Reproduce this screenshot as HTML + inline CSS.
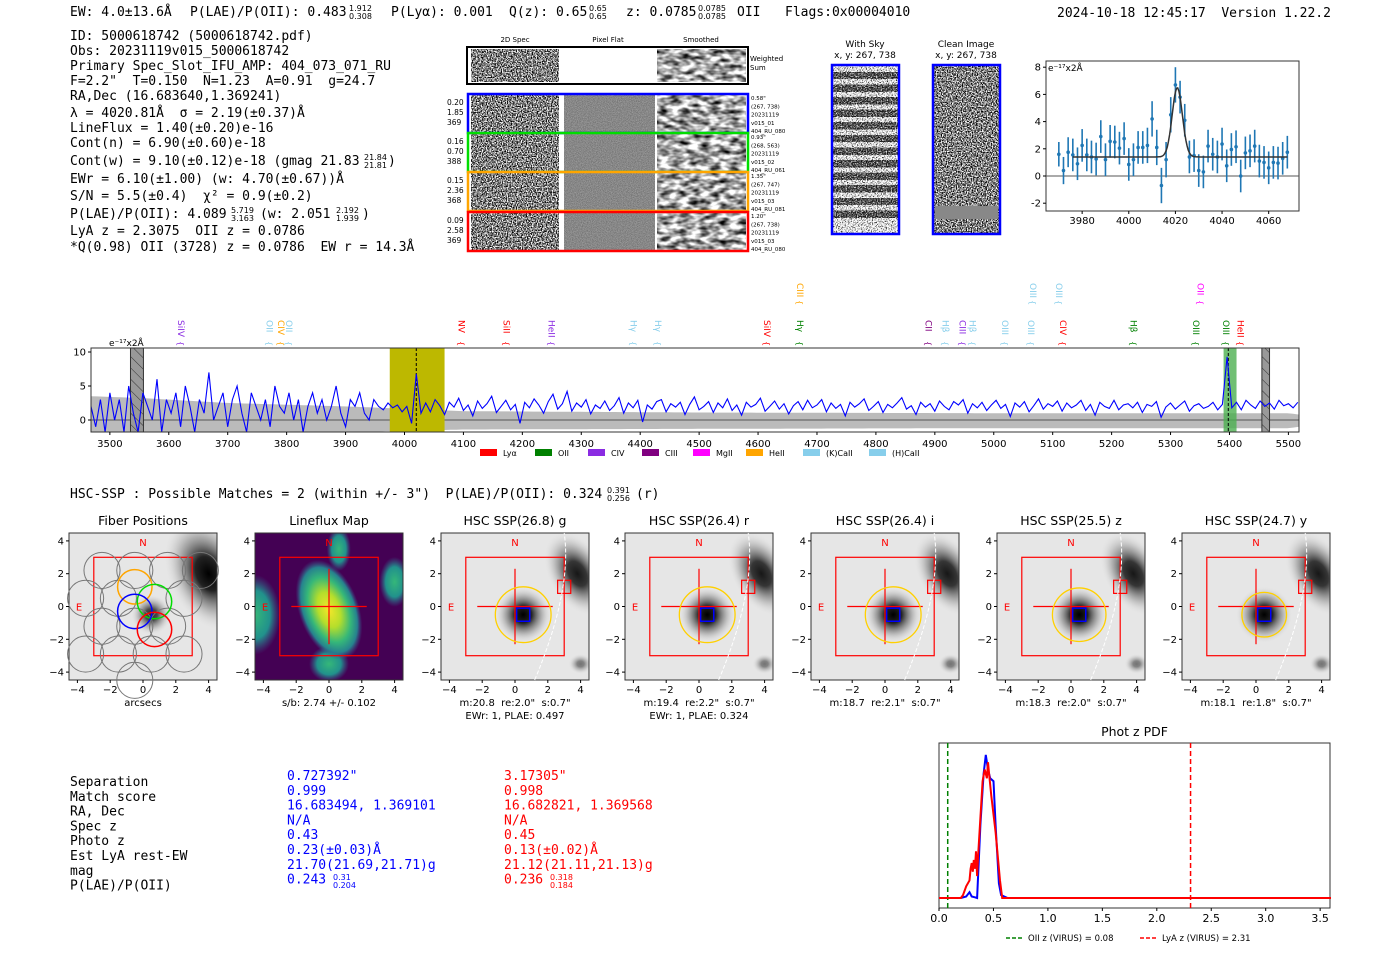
<!DOCTYPE html>
<html><head><meta charset="utf-8"><style>
html,body{margin:0;padding:0;background:#fff;}
svg{display:block;}
text{font-family:"DejaVu Sans","Liberation Sans",sans-serif;white-space:pre;}
.mono{font-family:"DejaVu Sans Mono","Liberation Mono",monospace;font-size:13px;white-space:pre;}
.tk{font-size:10px;fill:#000;}
</style></head><body>
<svg id="root" width="1400" height="953" viewBox="0 0 1400 953" xmlns="http://www.w3.org/2000/svg" xml:space="preserve">
<defs>
<filter id="noise" x="0" y="0" width="100%" height="100%" color-interpolation-filters="sRGB"><feTurbulence type="fractalNoise" baseFrequency="0.8" numOctaves="2" seed="3"/><feColorMatrix type="matrix" values="3.2 0 0 0 -1.1  3.2 0 0 0 -1.1  3.2 0 0 0 -1.1  0 0 0 0 1"/></filter>
<filter id="noiseLight" x="0" y="0" width="100%" height="100%" color-interpolation-filters="sRGB"><feTurbulence type="fractalNoise" baseFrequency="0.8" numOctaves="2" seed="9"/><feColorMatrix type="matrix" values="3 0 0 0 -0.6  3 0 0 0 -0.6  3 0 0 0 -0.6  0 0 0 0 1"/></filter>
<filter id="noiseDark" x="0" y="0" width="100%" height="100%" color-interpolation-filters="sRGB"><feTurbulence type="fractalNoise" baseFrequency="0.8" numOctaves="2" seed="11"/><feColorMatrix type="matrix" values="3 0 0 0 -1.3  3 0 0 0 -1.3  3 0 0 0 -1.3  0 0 0 0 1"/></filter>
<filter id="smooth" x="0" y="0" width="100%" height="100%" color-interpolation-filters="sRGB"><feTurbulence type="fractalNoise" baseFrequency="0.1 0.2" numOctaves="2" seed="7"/><feColorMatrix type="matrix" values="2 0 0 0 -0.35  2 0 0 0 -0.35  2 0 0 0 -0.35  0 0 0 0 1"/></filter>
<filter id="flat" x="0" y="0" width="100%" height="100%" color-interpolation-filters="sRGB"><feTurbulence type="fractalNoise" baseFrequency="1.2" numOctaves="1" seed="5"/><feColorMatrix type="matrix" values="0.4 0 0 0 0.33  0.4 0 0 0 0.33  0.4 0 0 0 0.33  0 0 0 0 1"/></filter>
<pattern id="hatch" width="8" height="8" patternUnits="userSpaceOnUse" patternTransform="rotate(-45)"><rect width="8" height="8" fill="#999"/><line x1="0" y1="0" x2="0" y2="8" stroke="#333" stroke-width="1"/></pattern>
<radialGradient id="blobDark" cx="50%" cy="50%" r="50%"><stop offset="0" stop-color="#000"/><stop offset="0.3" stop-color="#222"/><stop offset="0.65" stop-color="#888" stop-opacity="0.6"/><stop offset="1" stop-color="#ddd" stop-opacity="0"/></radialGradient>
<radialGradient id="blobY" cx="50%" cy="50%" r="50%"><stop offset="0" stop-color="#f5e62a"/><stop offset="0.35" stop-color="#b5de2b"/><stop offset="0.65" stop-color="#35b779"/><stop offset="0.85" stop-color="#26828e"/><stop offset="1" stop-color="#3b528b" stop-opacity="0"/></radialGradient>
<radialGradient id="blobT" cx="50%" cy="50%" r="50%"><stop offset="0" stop-color="#35b779"/><stop offset="0.6" stop-color="#21918c"/><stop offset="1" stop-color="#31688e" stop-opacity="0"/></radialGradient>
</defs>

<g>
<text x="70" y="16" class="mono">EW: 4.0±13.6Å</text>
<text x="190" y="16" class="mono">P(LAE)/P(OII): 0.483</text>
<text x="349" y="11" font-size="8">1.912</text><text x="349" y="19" font-size="8">0.308</text>
<text x="391" y="16" class="mono">P(Lyα): 0.001</text>
<text x="509" y="16" class="mono">Q(z): 0.65</text>
<text x="589" y="11" font-size="8">0.65</text><text x="589" y="19" font-size="8">0.65</text>
<text x="626" y="16" class="mono">z: 0.0785</text>
<text x="698" y="11" font-size="8">0.0785</text><text x="698" y="19" font-size="8">0.0785</text>
<text x="737" y="16" class="mono">OII</text>
<text x="785" y="16" class="mono">Flags:0x00004010</text>
<text x="1057" y="17" class="mono">2024-10-18 12:45:17  Version 1.22.2</text>
</g>

<g>
<text x="70" y="40" class="mono">ID: 5000618742 (5000618742.pdf)</text>
<text x="70" y="55" class="mono">Obs: 20231119v015_5000618742</text>
<text x="70" y="70" class="mono">Primary Spec_Slot_IFU_AMP: 404_073_071_RU</text>
<text x="70" y="85" class="mono">F=2.2"  T=0.150  N=1.23  A=0.91  g=24.7</text>
<text x="70" y="100" class="mono">RA,Dec (16.683640,1.369241)</text>
<text x="70" y="117" class="mono">λ = 4020.81Å  σ = 2.19(±0.37)Å</text>
<text x="70" y="132" class="mono">LineFlux = 1.40(±0.20)e-16</text>
<text x="70" y="147" class="mono">Cont(n) = 6.90(±0.60)e-18</text>
<text x="70" y="165" class="mono">Cont(w) = 9.10(±0.12)e-18 (gmag 21.83</text>
<text x="364" y="160" font-size="8">21.84</text><text x="364" y="168" font-size="8">21.81</text><text x="388" y="165" class="mono">)</text>
<text x="70" y="183" class="mono">EWr = 6.10(±1.00) (w: 4.70(±0.67))Å</text>
<text x="70" y="200" class="mono">S/N = 5.5(±0.4)  χ² = 0.9(±0.2)</text>
<text x="70" y="218" class="mono">P(LAE)/P(OII): 4.089</text>
<text x="231" y="213" font-size="8">5.719</text><text x="231" y="221" font-size="8">3.163</text>
<text x="260" y="218" class="mono">(w: 2.051</text>
<text x="336" y="213" font-size="8">2.192</text><text x="336" y="221" font-size="8">1.939</text><text x="362" y="218" class="mono">)</text>
<text x="70" y="235" class="mono">LyA z = 2.3075  OII z = 0.0786</text>
<text x="70" y="251" class="mono">*Q(0.98) OII (3728) z = 0.0786  EW r = 14.3Å</text>
</g>

<g id="cutouts">
<text x="515" y="42" font-size="7" text-anchor="middle">2D Spec</text>
<text x="608" y="42" font-size="7" text-anchor="middle">Pixel Flat</text>
<text x="701" y="42" font-size="7" text-anchor="middle">Smoothed</text>
<rect x="467" y="47" width="281" height="37" fill="#fff" stroke="#000" stroke-width="2"/>
<rect x="471" y="49" width="88" height="33" filter="url(#noise)"/>
<rect x="657" y="49" width="89" height="33" filter="url(#smooth)"/>
<text x="750" y="61" font-size="7">Weighted</text><text x="750" y="70" font-size="7">Sum</text>
</g>

<g>
<text x="865" y="47" font-size="9" text-anchor="middle">With Sky</text>
<text x="865" y="58" font-size="9" text-anchor="middle">x, y: 267, 738</text>
<text x="966" y="47" font-size="9" text-anchor="middle">Clean Image</text>
<text x="966" y="58" font-size="9" text-anchor="middle">x, y: 267, 738</text>
<rect x="832" y="65" width="67" height="169" filter="url(#noiseLight)"/>
<g id="skystripes"></g>
<rect x="832" y="65" width="67" height="169" fill="none" stroke="#0000ff" stroke-width="2.5"/>
<rect x="933" y="65" width="67" height="169" filter="url(#noise)"/>
<rect x="935" y="206" width="63" height="13" fill="#888"/>
<rect x="933" y="65" width="67" height="169" fill="none" stroke="#0000ff" stroke-width="2.5"/>
</g>

<g id="fitplot"></g>
<g id="specplot"></g>

<text x="70" y="498" class="mono">HSC-SSP : Possible Matches = 2 (within +/- 3")  P(LAE)/P(OII): 0.324</text>
<text x="607" y="493" font-size="8">0.391</text><text x="607" y="501" font-size="8">0.256</text><text x="636" y="498" class="mono">(r)</text>

<g id="panels"></g>
<g><g id="tbl"></g></g>
<g id="pdfplot"></g>
</svg>

<script>
// ===== data: full spectrum =====
const specStart = 3468, specStep = 8;
const specFlux = [2,-1,3,-2,4,0,3,-2,5,1,-2,4,2,0,6,-2,3,1,4,-1,5,2,-3,3,1,7,0,2,4,-1,3,5,1,-2,4,2,0,3,-1,5,2,1,4,0,3,-2,2,4,1,3,0,2,5,1,-1,3,2,4,1,0,3,
2,1.5,2.5,1.8,2.2,1.2,2.0,-0.5,6.8,1.0,
2.5,1.2,3.0,2.1,0.8,2.6,1.9,3.2,1.4,2.2,0.6,2.8,1.7,2.4,3.5,1.1,2.0,2.9,1.5,2.3,
-0.5,2.6,1.8,3.1,2.2,1.0,2.7,3.8,1.6,2.4,4.2,1.3,2.5,1.9,3.0,0.9,2.2,1.7,2.8,1.4,
2.1,3.3,1.0,2.5,1.8,2.9,-0.3,2.2,1.6,2.7,3.0,1.2,2.4,1.9,2.6,0.8,2.3,3.4,1.5,2.0,
2.7,1.1,2.5,1.8,3.1,1.4,2.2,0.7,2.6,1.9,2.3,3.2,1.3,2.0,2.8,1.6,2.4,0.9,2.1,2.7,
1.5,2.9,1.8,2.2,3.0,1.2,2.5,1.7,2.3,0.6,2.6,1.9,2.4,3.1,1.4,2.0,2.7,1.1,2.3,1.8,
2.5,3.3,1.6,2.1,0.8,2.6,1.9,2.4,1.3,2.8,2.0,1.5,2.7,2.2,3.0,1.0,2.4,1.8,2.6,1.4,
2.2,2.9,1.7,2.3,0.5,2.5,1.9,2.7,1.2,2.1,3.1,1.6,2.4,2.0,2.8,1.3,2.5,1.8,2.2,2.9,
1.4,2.3,0.7,2.6,2.0,1.7,2.9,1.5,2.2,2.4,1.8,2.6,1.1,2.3,2.0,2.7,0.4,1.9,2.5,1.6,
2.2,2.8,1.3,2.1,2.4,1.7,2.0,2.6,1.5,2.3,
9.3,1.8,2.6,1.5,2.9,2.2,1.7,2.8,2.0,2.5,1.6,2.9,2.1,2.4,1.8,2.6];
const bandWave = [3468,3560,3700,3900,4100,4500,5000,5500,5518];
const bandHi = [3.5,3.2,2.5,2.0,1.3,1.1,1.0,1.0,0.8];
const bandLo = [-2.5,-2.3,-2.2,-1.8,-1.4,-1.3,-1.2,-1.2,-1.0];
const specTicks = [3500,3600,3700,3800,3900,4000,4100,4200,4300,4400,4500,4600,4700,4800,4900,5000,5100,5200,5300,5400,5500];
const specYTicks = [0,5,10];
const lineLabels = [
 [3620,"SiIV","#8a2be2",0],[3770,"OII","#87ceeb",0],[3790,"CIV","#ffa500",0],[3803,"OII","#87ceeb",0],
 [4096,"NV","#ff0000",0],[4172,"SiII","#ff0000",0],[4249,"HeII","#8a2be2",0],[4388,"Hγ","#87ceeb",0],[4429,"Hγ","#87ceeb",0],
 [4614,"SiIV","#ff0000",0],[4670,"Hγ","#008000",0],[4670,"CIII","#ffa500",1],[4888,"CII","#800080",0],[4917,"Hβ","#87ceeb",0],
 [4946,"CIII","#8a2be2",0],[4963,"Hβ","#87ceeb",0],[5018,"OIII","#87ceeb",0],[5062,"OIII","#87ceeb",0],[5066,"OIII","#87ceeb",1],[5110,"OIII","#87ceeb",1],
 [5117,"CIV","#ff0000",0],[5236,"Hβ","#008000",0],[5342,"OIII","#008000",0],[5393,"OIII","#008000",0],[5418,"HeII","#ff0000",0],[5350,"OII","#ff00ff",1]];
const legNames = ["Lyα","OII","CIV","CIII","MgII","HeII","(K)CaII","(H)CaII"];
const legColors = ["#ff0000","#008000","#8a2be2","#800080","#ff00ff","#ffa500","#87ceeb","#87ceeb"];

// ===== data: line fit =====
const fitWave = [3970,3972,3974,3976,3978,3980,3982,3984,3986,3988,3990,3992,3994,3996,3998,4000,4002,4004,4006,4008,4010,4012,4014,4016,4018,4020,4022,4024,4026,4028,4030,4032,4034,4036,4038,4040,4042,4044,4046,4048,4050,4052,4054,4056,4058,4060,4062,4064,4066,4068];
const fitFlux = [1.6,0.4,1.75,1.55,0.9,2.25,1.55,1.4,1.25,2.9,1.2,2.55,2.5,2.05,2.75,0.85,1.2,2.1,2.1,2.25,4.2,2.1,-0.7,1.2,4.5,6.7,5.8,4.1,1.4,1.5,0.4,0.3,2.2,1.6,1.4,2.35,0.75,1.95,2.15,0.0,1.7,1.85,2.2,1.1,1.0,0.6,1.0,0.95,1.3,1.75];
const fitErr = [0.9,1.0,1.1,1.2,1.2,1.2,1.2,1.2,1.2,1.2,1.2,1.2,1.2,1.2,1.2,1.2,1.2,1.2,1.2,1.3,1.3,1.3,1.3,1.3,1.3,1.3,1.2,1.2,1.2,1.2,1.2,1.2,1.2,1.2,1.2,1.2,1.2,1.2,1.2,1.2,1.2,1.2,1.2,1.2,1.2,1.2,1.2,1.2,1.2,1.2];
const fitModel = [1.4, 5.1, 4020.8, 2.19];
const fitXTicks = [3980,4000,4020,4040,4060];
const fitYTicks = [-2,0,2,4,6,8];

// ===== data: photz pdf =====
const zBlue = [0,0.2,0.25,0.28,0.3,0.33,0.35,0.38,0.41,0.43,0.45,0.47,0.5,0.52,0.55,0.57,0.6,0.63,3.6];
const pBlue = [0,0,0.01,0.04,0.01,0.005,0,0.5,0.85,0.98,0.88,0.82,0.8,0.5,0.1,0.02,0.01,0,0];
const zRed = [0,0.2,0.22,0.25,0.28,0.29,0.3,0.31,0.32,0.33,0.34,0.35,0.36,0.38,0.4,0.42,0.44,0.45,0.46,0.48,0.52,0.56,0.58,0.62,3.6];
const pRed = [0,0,0.02,0.08,0.12,0.2,0.24,0.18,0.26,0.2,0.32,0.15,0.3,0.55,0.8,0.88,0.82,0.93,0.85,0.7,0.45,0.12,0,0,0];
const pdfXTicks = [0.0,0.5,1.0,1.5,2.0,2.5,3.0,3.5];
const zOII = 0.08, zLyA = 2.31;

// ===== data: panels & table =====
const panelTitles = ["Fiber Positions","Lineflux Map","HSC SSP(26.8) g","HSC SSP(26.4) r","HSC SSP(26.4) i","HSC SSP(25.5) z","HSC SSP(24.7) y"];
const panelSub1 = ["arcsecs","s/b: 2.74 +/- 0.102","m:20.8  re:2.0\"  s:0.7\"","m:19.4  re:2.2\"  s:0.7\"","m:18.7  re:2.1\"  s:0.7\"","m:18.3  re:2.0\"  s:0.7\"","m:18.1  re:1.8\"  s:0.7\""];
const panelSub2 = ["","","EWr: 1, PLAE: 0.497","EWr: 1, PLAE: 0.324","","",""];
const circR = [0,0,2.5,2.5,2.5,2.4,2.0];
const tblLabels = ["Separation","Match score","RA, Dec","Spec z","Photo z","Est LyA rest-EW","mag","P(LAE)/P(OII)"];
const tblBlue = ["0.727392\"","0.999","16.683494, 1.369101","N/A","0.43","0.23(±0.03)Å","21.70(21.69,21.71)g","0.243"];
const tblRed = ["3.17305\"","0.998","16.682821, 1.369568","N/A","0.45","0.13(±0.02)Å","21.12(21.11,21.13)g","0.236"];

const NS="http://www.w3.org/2000/svg";
function mk(parent,tag,attrs,txt){const e=document.createElementNS(NS,tag);for(const k in attrs)e.setAttribute(k,attrs[k]);if(txt!==undefined)e.textContent=txt;parent.appendChild(e);return e;}

(function(){
 const g=document.getElementById('cutouts');
 const rows=[[95,"#0000ff",["0.20","1.85","369"],["0.58\"","(267, 738)","20231119","v015_01","404_RU_080"]],
 [134,"#00dd00",["0.16","0.70","388"],["0.93\"","(268, 563)","20231119","v015_02","404_RU_061"]],
 [173,"#ffa500",["0.15","2.36","368"],["1.35\"","(267, 747)","20231119","v015_03","404_RU_081"]],
 [213,"#ff0000",["0.09","2.58","369"],["1.20\"","(267, 738)","20231119","v015_03","404_RU_080"]]];
 rows.forEach((r,i)=>{
  const y=r[0];
  mk(g,'rect',{x:471,y:y,width:88,height:38,filter:'url(#noise)'});
  mk(g,'rect',{x:564,y:y,width:91,height:38,filter:'url(#flat)'});
  mk(g,'rect',{x:657,y:y,width:89,height:38,filter:'url(#smooth)'});
  const fr=mk(g,'rect',{x:468,y:y-1,width:280,height:39,fill:'none',stroke:r[1],'stroke-width':2.5});
  
  
  r[2].forEach((t,j)=>mk(g,'text',{x:447,y:y+10+j*10,'font-size':7.5},t));
  r[3].forEach((t,j)=>mk(g,'text',{x:751,y:y+5+j*8.3,'font-size':5.5},t));
 });
 const s=document.getElementById('skystripes');
 for(let k=0;k<12;k++){const yy=72+k*12.6;mk(s,'rect',{x:833,y:yy,width:65,height:7,filter:'url(#noiseDark)',opacity:0.85});}
})();

(function(){
 const g=document.getElementById('fitplot');
 const L=1046,R=1299,T=61,B=211;
 const xs=w=>L+(w-3964.5)/(4073-3964.5)*(R-L);
 const ys=v=>176-v*13.6;
 mk(g,'rect',{x:L,y:T,width:R-L,height:B-T,fill:'#fff',stroke:'#333'});
 mk(g,'line',{x1:L,x2:R,y1:ys(0),y2:ys(0),stroke:'#555'});
 fitXTicks.forEach(t=>{mk(g,'line',{x1:xs(t),x2:xs(t),y1:B,y2:B+3,stroke:'#000'});mk(g,'text',{x:xs(t),y:B+13,class:'tk','text-anchor':'middle'},t);});
 fitYTicks.forEach(t=>{mk(g,'line',{x1:L-3,x2:L,y1:ys(t),y2:ys(t),stroke:'#000'});mk(g,'text',{x:L-5,y:ys(t)+3.5,class:'tk','text-anchor':'end'},t);});
 mk(g,'text',{x:L+2,y:T+10,'font-size':9},'e⁻¹⁷x2Å');
 fitWave.forEach((w,i)=>{
  const eb=mk(g,'line',{x1:xs(w),x2:xs(w),y1:ys(fitFlux[i]-fitErr[i]),y2:ys(fitFlux[i]+fitErr[i]),stroke:'#1f77b4','stroke-width':1.6});
  
  
  const p=mk(g,'circle',{cx:xs(w),cy:ys(fitFlux[i]),r:1.8,fill:'#1f77b4'});
  
  
 });
 let d='';
 for(let w=3976;w<=4068;w+=0.5){const v=fitModel[0]+fitModel[1]*Math.exp(-0.5*Math.pow((w-fitModel[2])/fitModel[3],2));d+=(d?'L':'M')+xs(w).toFixed(1)+','+ys(v).toFixed(1);}
 const m=mk(g,'path',{d:d,fill:'none',stroke:'#333','stroke-width':1.5});
 
 
})();

(function(){
 const g=document.getElementById('specplot');
 const L=91,R=1299,T=348,B=432;
 const wMin=3468,wMax=5518;
 const xs=w=>L+(w-wMin)/(wMax-wMin)*(R-L);
 const ys=v=>420-v*6.8;
 mk(g,'rect',{x:L,y:T,width:R-L,height:B-T,fill:'#fff'});
 let top='',bot='';
 for(let w=wMin;w<=wMax;w+=10){
  let k=0;while(k<bandWave.length-2&&w>bandWave[k+1])k++;
  const f=(w-bandWave[k])/(bandWave[k+1]-bandWave[k]);
  const hi=bandHi[k]+f*(bandHi[k+1]-bandHi[k]),lo=bandLo[k]+f*(bandLo[k+1]-bandLo[k]);
  top+=(top?'L':'M')+xs(w).toFixed(1)+','+ys(hi).toFixed(1);
  bot='L'+xs(w).toFixed(1)+','+Math.min(B,ys(lo)).toFixed(1)+bot;
 }
 const band=mk(g,'path',{d:top+bot+'Z',fill:'#bbb'});
 
 
 mk(g,'line',{x1:L,x2:R,y1:ys(0),y2:ys(0),stroke:'#555'});
 const hy=mk(g,'rect',{x:xs(3975),y:T,width:xs(4068)-xs(3975),height:B-T,fill:'#bdb800'});
 
 
 const hg=mk(g,'rect',{x:xs(5390),y:T,width:xs(5412)-xs(5390),height:B-T,fill:'#4caf50',opacity:0.8});
 
 
 [[3535,3557],[5455,5468]].forEach(r=>{mk(g,'rect',{x:xs(r[0]),y:T,width:xs(r[1])-xs(r[0]),height:B-T,fill:'url(#hatch)',stroke:'#333'});});
 [4020,5398].forEach(w=>mk(g,'line',{x1:xs(w),x2:xs(w),y1:T,y2:B,stroke:'#000','stroke-dasharray':'3,2'}));
 let d='';
 specFlux.forEach((v,i)=>{const w=specStart+i*specStep;d+=(i?'L':'M')+xs(w).toFixed(1)+','+Math.max(T,Math.min(B,ys(v))).toFixed(1);});
 const sp=mk(g,'path',{d:d,fill:'none',stroke:'#0000ff','stroke-width':1.1});
 
 
 mk(g,'rect',{x:L,y:T,width:R-L,height:B-T,fill:'none',stroke:'#333'});
 specTicks.forEach(t=>{mk(g,'line',{x1:xs(t),x2:xs(t),y1:B,y2:B+3,stroke:'#000'});mk(g,'text',{x:xs(t),y:B+15,class:'tk','text-anchor':'middle'},t);});
 specYTicks.forEach(t=>{mk(g,'line',{x1:L-3,x2:L,y1:ys(t),y2:ys(t),stroke:'#000'});mk(g,'text',{x:L-5,y:ys(t)+3.5,class:'tk','text-anchor':'end'},t);});
 mk(g,'text',{x:109,y:346,'font-size':9},'e⁻¹⁷x2Å');
 lineLabels.forEach(l=>{
  const x=xs(l[0]);const y0=l[3]?283:320;
  const t=mk(g,'text',{x:x,y:y0,'font-size':9,fill:l[2],transform:'rotate(90 '+x+' '+y0+')','dominant-baseline':'middle'},l[1]);
  
  
  mk(g,'text',{x:x,y:(l[3]?300:341),'font-size':8,fill:l[2],transform:'rotate(90 '+x+' '+(l[3]?300:341)+')','dominant-baseline':'middle'},'{');
 });
 const lx=[480,535,588,642,693,746,803,869];
 legNames.forEach((n,i)=>{
  const r=mk(g,'rect',{x:lx[i],y:449,width:17,height:7,fill:legColors[i]});
  
  
  mk(g,'text',{x:lx[i]+23,y:456,'font-size':8},n);
 });
})();

(function(){
 const g=document.getElementById('panels');
 const lefts=[69,255,441,625,811,997,1182];
 const W=148,T=533,H=147;
 lefts.forEach((x0,i)=>{
  const cx=x0+W/2,cy=T+H/2,s=16.4;
  const X=u=>cx+u*s,Y=v=>cy-v*s;
  const p=mk(g,'g',{});
  
  
  const cp='cp'+i;
  const defs=mk(p,'clipPath',{id:cp});mk(defs,'rect',{x:x0,y:T,width:W,height:H});
  const im=mk(p,'g',{'clip-path':'url(#'+cp+')'});
  if(i===1){
   mk(im,'rect',{x:x0,y:T,width:W,height:H,fill:'#440154'});
   mk(im,'ellipse',{cx:X(-4.5),cy:Y(-0.5),rx:25,ry:40,fill:'url(#blobT)'});
   mk(im,'ellipse',{cx:X(0.6),cy:Y(3.5),rx:12,ry:22,fill:'url(#blobT)'});
   mk(im,'ellipse',{cx:X(4),cy:Y(1.5),rx:15,ry:25,fill:'url(#blobT)'});
   mk(im,'ellipse',{cx:X(0),cy:Y(-3.5),rx:20,ry:18,fill:'url(#blobT)'});
   mk(im,'ellipse',{cx:X(0),cy:Y(-0.2),rx:30,ry:52,fill:'url(#blobY)',transform:'rotate(-20 '+X(0)+' '+Y(-0.2)+')'});
  } else {
   mk(im,'rect',{x:x0,y:T,width:W,height:H,fill:'#e6e6e6'});
   if(i===0){
    mk(im,'ellipse',{cx:X(4),cy:Y(2),rx:40,ry:60,fill:'url(#blobDark)',transform:'rotate(-25 '+X(4)+' '+Y(2)+')'});
    mk(im,'ellipse',{cx:X(0.5),cy:Y(-0.5),rx:20,ry:20,fill:'url(#blobDark)',opacity:0.8});
   } else {
    mk(im,'ellipse',{cx:X(0.5),cy:Y(-0.5),rx:28,ry:28,fill:'url(#blobDark)'});
    mk(im,'ellipse',{cx:X(3.8),cy:Y(2),rx:28,ry:45,fill:'url(#blobDark)',opacity:0.9,transform:'rotate(-30 '+X(3.8)+' '+Y(2)+')'});
    mk(im,'ellipse',{cx:X(4),cy:Y(-3.5),rx:12,ry:10,fill:'url(#blobDark)',opacity:0.5});
   }
  }
  mk(p,'rect',{x:x0,y:T,width:W,height:H,fill:'none',stroke:'#333'});
  mk(p,'rect',{x:X(-3),y:Y(3),width:6*s,height:6*s,fill:'none',stroke:'#ff0000','stroke-width':1.2});
  if(i===0){
   const fib=[[-2.5,2.2],[-1.5,0.5],[-3.5,0.5],[-2.5,-1.2],[-0.5,2.2],[1.5,2.2],[-3.5,-2.9],[-1.5,-2.9],[0.5,-2.9],[2.5,-2.9],[-0.5,-4.5],[2.5,0.5],[3.5,2.2],[-0.5,-1.2],[1.5,-1.2]];
   fib.forEach(f=>mk(p,'ellipse',{cx:X(f[0]),cy:Y(f[1]),rx:1.1*s,ry:1.1*s,fill:'none',stroke:'#777'}));
   [[-0.5,1.2,'#ffa500'],[0.7,0.3,'#00dd00'],[-0.5,-0.3,'#0000ff'],[0.7,-1.4,'#ff0000']].forEach(f=>mk(p,'ellipse',{cx:X(f[0]),cy:Y(f[1]),rx:1.05*s,ry:1.05*s,fill:'none',stroke:f[2],'stroke-width':1.5}));
  } else {
   mk(p,'line',{x1:X(-2.3),x2:X(2.3),y1:Y(0),y2:Y(0),stroke:'#ff0000','stroke-width':1.2});
   mk(p,'line',{x1:X(0),x2:X(0),y1:Y(2.3),y2:Y(-2.3),stroke:'#ff0000','stroke-width':1.2});
  }
  if(i>=2){
   mk(p,'circle',{cx:X(0.5),cy:Y(-0.5),r:circR[i]*s*0.68,fill:'none',stroke:'#ffd000','stroke-width':1.3});
   mk(p,'rect',{x:X(0.1),y:Y(-0.1),width:0.8*s,height:0.8*s,fill:'none',stroke:'#0000ff','stroke-width':1.5});
   mk(p,'rect',{x:X(2.6),y:Y(1.6),width:0.8*s,height:0.8*s,fill:'none',stroke:'#ff0000','stroke-width':1.2});
   mk(p,'path',{d:'M'+X(1.2)+','+(T+H)+' Q'+X(3.5)+','+Y(1)+' '+X(3)+','+T,fill:'none',stroke:'#fff','stroke-dasharray':'4,2'});
  }
  mk(p,'text',{x:X(0),y:Y(4)+5,fill:'#ff0000','font-size':10,'text-anchor':'middle'},'N');
  mk(p,'text',{x:X(-3.9),y:Y(0)+4,fill:'#ff0000','font-size':10,'text-anchor':'middle'},'E');
  [-4,-2,0,2,4].forEach(t=>{
   mk(p,'line',{x1:X(t),x2:X(t),y1:T+H,y2:T+H+3,stroke:'#000'});
   mk(p,'text',{x:X(t),y:T+H+13,class:'tk','text-anchor':'middle'},t<0?'−'+(-t):t);
   mk(p,'line',{x1:x0-3,x2:x0,y1:Y(t),y2:Y(t),stroke:'#000'});
   mk(p,'text',{x:x0-5,y:Y(t)+3.5,class:'tk','text-anchor':'end'},t<0?'−'+(-t):t);
  });
  mk(p,'text',{x:cx,y:525,'font-size':12.5,'text-anchor':'middle'},panelTitles[i]);
  mk(p,'text',{x:cx,y:706,'font-size':10,'text-anchor':'middle'},panelSub1[i]);
  if(panelSub2[i])mk(p,'text',{x:cx,y:719,'font-size':10,'text-anchor':'middle'},panelSub2[i]);
 });
})();

(function(){
 const g=document.getElementById('tbl');
 tblLabels.forEach((l,i)=>{
  const y=786+i*14.8;
  mk(g,'text',{x:70,y:y,class:'mono'},l);
  mk(g,'text',{x:287,y:y-6,class:'mono',fill:'#0000ff'},tblBlue[i]);
  mk(g,'text',{x:504,y:y-6,class:'mono',fill:'#ff0000'},tblRed[i]);
 });
 mk(g,'text',{x:333,y:880,'font-size':8,fill:'#0000ff'},'0.31');mk(g,'text',{x:333,y:888,'font-size':8,fill:'#0000ff'},'0.204');
 mk(g,'text',{x:550,y:880,'font-size':8,fill:'#ff0000'},'0.318');mk(g,'text',{x:550,y:888,'font-size':8,fill:'#ff0000'},'0.184');
})();

(function(){
 const g=document.getElementById('pdfplot');
 const L=939,R=1330,T=743,B=908;
 const xs=z=>L+z*108.9;
 const ys=p=>898-p*146;
 mk(g,'rect',{x:L,y:T,width:R-L,height:B-T,fill:'#fff',stroke:'#333'});
 mk(g,'text',{x:(L+R)/2,y:736,'font-size':12.5,'text-anchor':'middle'},'Phot z PDF');
 mk(g,'line',{x1:xs(zOII),x2:xs(zOII),y1:T,y2:B,stroke:'#008000','stroke-width':1.5,'stroke-dasharray':'5,3'});
 mk(g,'line',{x1:xs(zLyA),x2:xs(zLyA),y1:T,y2:B,stroke:'#ff0000','stroke-width':1.5,'stroke-dasharray':'5,3'});
 const path=(zs,ps)=>zs.map((z,i)=>(i?'L':'M')+xs(z).toFixed(1)+','+ys(ps[i]).toFixed(1)).join('');
 const b=mk(g,'path',{d:path(zBlue,pBlue),fill:'none',stroke:'#0000ff','stroke-width':2});
 
 
 const r=mk(g,'path',{d:path(zRed,pRed),fill:'none',stroke:'#ff0000','stroke-width':2});
 
 
 pdfXTicks.forEach(t=>{mk(g,'line',{x1:xs(t),x2:xs(t),y1:B,y2:B+3,stroke:'#000'});mk(g,'text',{x:xs(t),y:B+14,'font-size':11,'text-anchor':'middle'},t.toFixed(1));});
 mk(g,'line',{x1:1006,x2:1022,y1:938,y2:938,stroke:'#008000','stroke-width':1.5,'stroke-dasharray':'4,2'});
 mk(g,'text',{x:1028,y:941,'font-size':8.5},'OII z (VIRUS) = 0.08');
 mk(g,'line',{x1:1140,x2:1156,y1:938,y2:938,stroke:'#ff0000','stroke-width':1.5,'stroke-dasharray':'4,2'});
 mk(g,'text',{x:1162,y:941,'font-size':8.5},'LyA z (VIRUS) = 2.31');
})();
</script>
</body></html>
